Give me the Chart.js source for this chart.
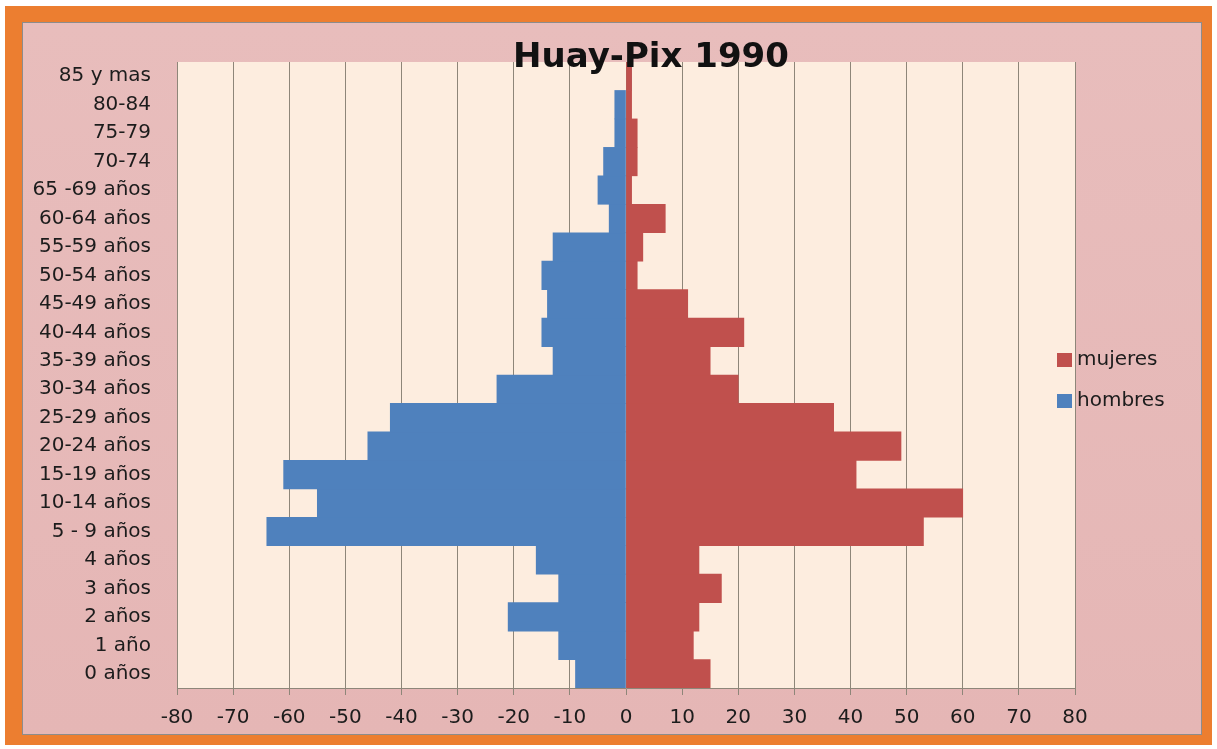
<!DOCTYPE html>
<html>
<head>
<meta charset="utf-8">
<script src="https://cdn.jsdelivr.net/npm/chart.js@4/dist/chart.umd.min.js"></script>
<style>
  html, body { margin: 0; padding: 0; background: #fff; }
  canvas { display: block; }
</style>
</head>
<body>
<canvas id="chart" width="1217" height="749"></canvas>
<script>
// age groups, bottom to top
const ageGroups = ["0 años", "1 año", "2 años", "3 años", "4 años", "5 - 9 años",
  "10-14 años", "15-19 años", "20-24 años", "25-29 años", "30-34 años", "35-39 años",
  "40-44 años", "45-49 años", "50-54 años", "55-59 años", "60-64 años", "65 -69 años",
  "70-74", "75-79", "80-84", "85 y mas"];
const hombres = [-9, -12, -21, -12, -16, -64, -55, -61, -46, -42, -23, -13,
  -15, -14, -15, -13, -3, -5, -4, -2, -2, 0];
const mujeres = [15, 12, 13, 17, 13, 53, 60, 41, 49, 37, 20, 15,
  21, 11, 2, 3, 7, 1, 2, 2, 1, 1];
const xTicks = [-80, -70, -60, -50, -40, -30, -20, -10, 0, 10, 20, 30, 40, 50, 60, 70, 80];
const chartTitle = "Huay-Pix 1990";

const FONT = "'DejaVu Sans', sans-serif";
const TEXT = "#1c1c1c";
const GRID = "#8e8679";

// frame, panel and plot-area backgrounds
const backdrop = {
  id: "backdrop",
  beforeDraw(chart) {
    const ctx = chart.ctx;
    const a = chart.chartArea;
    ctx.save();
    ctx.fillStyle = "#ffffff";
    ctx.fillRect(0, 0, chart.width, chart.height);
    ctx.fillStyle = "#ec7e30";
    ctx.fillRect(5, 6, 1207, 739);
    const g = ctx.createLinearGradient(0, 22, 0, 735);
    g.addColorStop(0, "#e8bdbc");
    g.addColorStop(1, "#e5b6b5");
    ctx.fillStyle = g;
    ctx.fillRect(22, 22, 1180, 713);
    ctx.strokeStyle = "#8c8c8c";
    ctx.lineWidth = 1;
    ctx.strokeRect(22.5, 22.5, 1179, 712);
    ctx.fillStyle = "#fdeddf";
    ctx.fillRect(a.left, a.top, a.right - a.left, a.bottom - a.top);
    ctx.restore();
  }
};

// title and legend placed like the original sheet
const labelsLayer = {
  id: "labelsLayer",
  afterDraw(chart) {
    const ctx = chart.ctx;
    ctx.save();
    ctx.fillStyle = "#111";
    ctx.font = "bold 34px " + FONT;
    ctx.textAlign = "center";
    ctx.textBaseline = "alphabetic";
    ctx.fillText(chartTitle, 651, 67);

    ctx.font = "20px " + FONT;
    ctx.textAlign = "left";
    chart.data.datasets.forEach((ds, i) => {
      const y = 360 + i * 41;
      ctx.fillStyle = ds.backgroundColor;
      ctx.fillRect(1057, y - 7, 15, 14);
      ctx.fillStyle = TEXT;
      ctx.textBaseline = "middle";
      ctx.fillText(ds.label, 1077, y);
    });
    ctx.restore();
  }
};

new Chart(document.getElementById("chart"), {
  type: "bar",
  data: {
    labels: ageGroups,
    datasets: [
      { label: "mujeres", data: mujeres, backgroundColor: "#c0504d", borderWidth: 0 },
      { label: "hombres", data: hombres, backgroundColor: "#4f81bd", borderWidth: 0 }
    ]
  },
  options: {
    indexAxis: "y",
    responsive: false,
    animation: false,
    devicePixelRatio: 1,
    barPercentage: 1,
    categoryPercentage: 1,
    layout: { padding: { top: 62, right: 142, left: 0, bottom: 0 } },
    plugins: {
      legend: { display: false },
      title: { display: false },
      tooltip: { enabled: false }
    },
    scales: {
      x: {
        stacked: true,
        min: xTicks[0],
        max: xTicks[xTicks.length - 1],
        afterFit: (scale) => { scale.height = 61; },
        afterBuildTicks: (scale) => { scale.ticks = xTicks.map((v) => ({ value: v })); },
        ticks: {
          stepSize: 10,
          padding: 11,
          color: TEXT,
          font: { family: FONT, size: 20 },
          callback: (v) => String(v)
        },
        grid: { color: GRID, lineWidth: 1, tickLength: 7, drawTicks: true },
        border: { color: GRID, width: 1 }
      },
      y: {
        stacked: true,
        reverse: true,
        afterFit: (scale) => { scale.width = 177; },
        ticks: {
          padding: 26,
          color: TEXT,
          font: { family: FONT, size: 20 },
          autoSkip: false
        },
        grid: { display: false, drawTicks: false },
        border: { display: false }
      }
    }
  },
  plugins: [backdrop, labelsLayer]
});
</script>
</body>
</html>
